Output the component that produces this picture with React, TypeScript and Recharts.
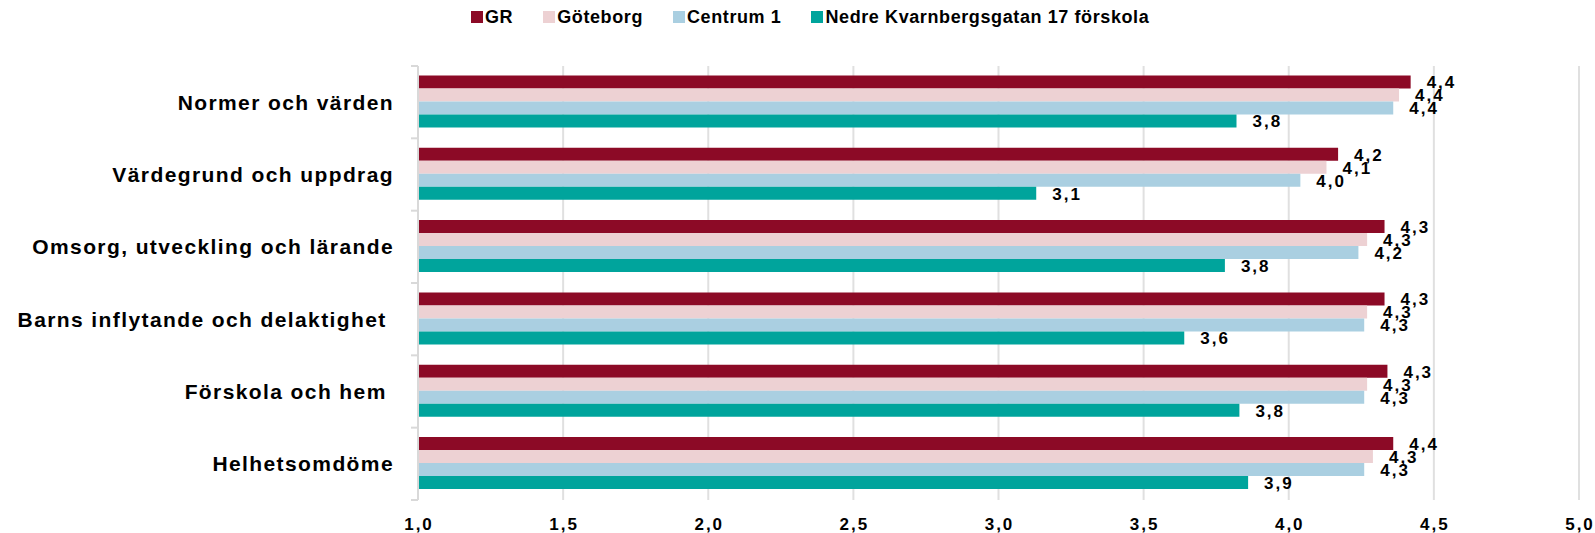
import { Bar, BarChart, CartesianGrid, LabelList, XAxis, YAxis } from 'recharts';

const categories = [
  'Normer och värden',
  'Värdegrund och uppdrag',
  'Omsorg, utveckling och lärande',
  'Barns inflytande och delaktighet ',
  'Förskola och hem ',
  'Helhetsomdöme',
];

const gr = [4.42, 4.17, 4.33, 4.33, 4.34, 4.36];
const goteborg = [4.38, 4.13, 4.27, 4.27, 4.27, 4.29];
const centrum = [4.36, 4.04, 4.24, 4.26, 4.26, 4.26];
const nedre = [3.82, 3.13, 3.78, 3.64, 3.83, 3.86];

const xTicks = [1, 1.5, 2, 2.5, 3, 3.5, 4, 4.5, 5];

const series = [
  { key: 'gr', name: 'GR', color: '#8c0a26' },
  { key: 'goteborg', name: 'Göteborg', color: '#edd1d3' },
  { key: 'centrum', name: 'Centrum 1', color: '#aacfe1' },
  { key: 'nedre', name: 'Nedre Kvarnbergsgatan 17 förskola', color: '#00a49c' },
];

const data = categories.map((name, i) => ({
  name,
  gr: gr[i],
  goteborg: goteborg[i],
  centrum: centrum[i],
  nedre: nedre[i],
}));

const FONT = '"Liberation Sans", Arial, sans-serif';
const comma = (v: number) => v.toFixed(1).replace('.', ',');

const CategoryTick = (props: any) => {
  const { x, y, payload, index } = props;
  const half = payload.offset ?? 36;
  return (
    <g>
      <line x1={x - 7} x2={x} y1={y - half} y2={y - half} stroke='#d9d9d9' strokeWidth={2} />
      {index === categories.length - 1 && (
        <line x1={x - 7} x2={x} y1={y + half} y2={y + half} stroke='#d9d9d9' strokeWidth={2} />
      )}
      <text
        x={x - 24}
        y={y}
        textAnchor='end'
        dominantBaseline='central'
        fontFamily={FONT}
        fontWeight='bold'
        fontSize={21}
        letterSpacing={1.4}
        fill='#000'
        style={{ whiteSpace: 'pre' }}
      >
        {payload.value}
      </text>
    </g>
  );
};

const ValueTick = (props: any) => {
  const { x, y, payload } = props;
  return (
    <text
      x={x + 1}
      y={y + 24}
      textAnchor='middle'
      dominantBaseline='central'
      fontFamily={FONT}
      fontWeight='bold'
      fontSize={17}
      letterSpacing={2}
      fill='#000'
    >
      {comma(payload.value)}
    </text>
  );
};

const BarLabel = (props: any) => {
  const { x, y, width, height, value } = props;
  return (
    <text
      x={x + width + 16}
      y={y + height / 2 + 1}
      textAnchor='start'
      dominantBaseline='central'
      fontFamily={FONT}
      fontWeight='bold'
      fontSize={17}
      letterSpacing={2}
      fill='#000'
    >
      {comma(value)}
    </text>
  );
};

export default function App() {
  return (
    <div style={{ position: 'absolute', left: 0, top: 0, width: 1595, height: 533, background: '#fff' }}>
      <div
        style={{
          position: 'absolute',
          left: 471,
          top: 5,
          height: 24,
          display: 'flex',
          alignItems: 'center',
          gap: 30,
          fontFamily: FONT,
          fontWeight: 'bold',
          fontSize: 18,
          letterSpacing: 0.6,
          color: '#000',
          whiteSpace: 'nowrap',
        }}
      >
        {series.map(s => (
          <div key={s.key} style={{ display: 'flex', alignItems: 'center', gap: 2 }}>
            <span style={{ display: 'inline-block', width: 12, height: 12, background: s.color }} />
            <span>{s.name}</span>
          </div>
        ))}
      </div>
      <BarChart
        width={1595}
        height={533}
        data={data}
        layout='vertical'
        margin={{ top: 66, right: 16, bottom: 0, left: 0 }}
        barCategoryGap='13%'
        barGap={0}
      >
        <CartesianGrid horizontal={false} stroke='#e0e0e0' strokeWidth={2} />
        <XAxis
          type='number'
          domain={[1, 5]}
          ticks={xTicks}
          axisLine={false}
          tickLine={false}
          tickSize={0}
          tickMargin={0}
          height={33}
          tick={<ValueTick />}
          interval={0}
        />
        <YAxis
          type='category'
          dataKey='name'
          width={418}
          axisLine={{ stroke: '#d9d9d9', strokeWidth: 2 }}
          tickLine={false}
          tickSize={0}
          tickMargin={0}
          tick={<CategoryTick />}
          interval={0}
        />
        {series.map(s => (
          <Bar key={s.key} dataKey={s.key} name={s.name} fill={s.color} isAnimationActive={false}>
            <LabelList dataKey={s.key} content={<BarLabel />} />
          </Bar>
        ))}
      </BarChart>
    </div>
  );
}
